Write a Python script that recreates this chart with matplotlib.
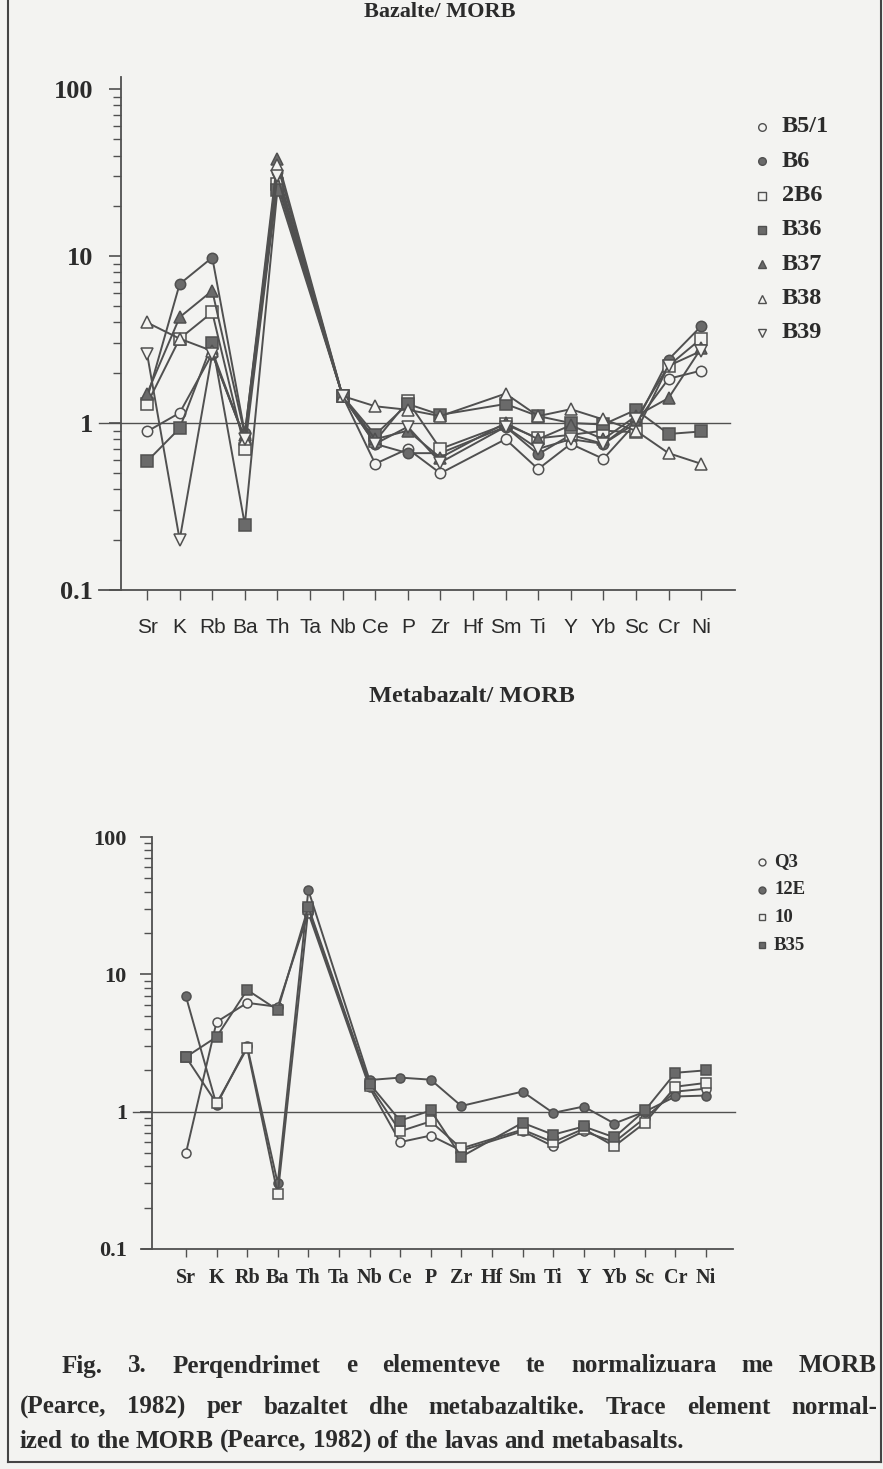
import numpy as np
import matplotlib
matplotlib.use("Agg")
import matplotlib.pyplot as plt
from matplotlib.lines import Line2D
from matplotlib.ticker import FixedLocator, FixedFormatter, LogLocator, NullFormatter

nan = np.nan
elements = ['Sr', 'K', 'Rb', 'Ba', 'Th', 'Ta', 'Nb', 'Ce', 'P', 'Zr', 'Hf',
            'Sm', 'Ti', 'Y', 'Yb', 'Sc', 'Cr', 'Ni']
ytick_vals = [0.1, 1, 10, 100]
ytick_labels = ['0.1', '1', '10', '100']

# ---- Bazalte / MORB ----
top_names = ['B5/1', 'B6', '2B6', 'B36', 'B37', 'B38', 'B39']
B5_1 = [0.89, 1.15, 2.6, 0.80, 28, nan, 1.45, 0.57, 0.70, 0.50, nan, 0.80, 0.53, 0.75, 0.61, 1.00, 1.84, 2.06]
B6   = [1.40, 6.8, 9.8, 0.87, 32, nan, 1.45, 0.75, 0.66, 0.66, nan, 0.95, 0.65, 0.85, 0.75, 1.00, 2.40, 3.80]
B2B6 = [1.30, 3.2, 4.6, 0.70, 27, nan, 1.45, 0.78, 1.35, 0.70, nan, 0.98, 0.81, 0.85, 0.90, 0.88, 2.20, 3.20]
B36  = [0.59, 0.93, 3.0, 0.246, 25, nan, 1.45, 0.85, 1.30, 1.12, nan, 1.30, 1.10, 1.00, 0.98, 1.20, 0.86, 0.89]
B37  = [1.50, 4.3, 6.2, 0.85, 38, nan, 1.45, 0.80, 0.90, 0.62, nan, 1.00, 0.80, 0.97, 0.80, 1.10, 1.41, 2.80]
B38  = [4.00, 3.2, 2.7, 0.80, 35, nan, 1.45, 1.26, 1.20, 1.10, nan, 1.50, 1.10, 1.21, 1.05, 0.90, 0.66, 0.57]
B39  = [2.60, 0.20, 2.6, 0.80, 30, nan, 1.45, 0.75, 0.95, 0.58, nan, 0.95, 0.70, 0.80, 0.75, 1.05, 2.20, 2.70]
top_series = [B5_1, B6, B2B6, B36, B37, B38, B39]
top_markers = [('o', False), ('o', True), ('s', False), ('s', True),
               ('^', True), ('^', False), ('v', False)]

# ---- Metabazalt / MORB ----
bot_names = ['Q3', '12E', '10', 'B35']
Q3   = [0.50, 4.5, 6.2, 5.8, 28, nan, 1.50, 0.60, 0.67, 0.52, nan, 0.72, 0.56, 0.72, 0.60, 0.90, 1.40, 1.47]
E12  = [6.9, 1.12, 3.0, 0.30, 41, nan, 1.70, 1.77, 1.71, 1.10, nan, 1.40, 0.98, 1.09, 0.82, 1.00, 1.29, 1.31]
S10  = [2.5, 1.15, 2.9, 0.25, 30, nan, 1.55, 0.72, 0.85, 0.54, nan, 0.74, 0.60, 0.75, 0.56, 0.83, 1.52, 1.62]
B35  = [2.5, 3.5, 7.7, 5.5, 31, nan, 1.60, 0.86, 1.02, 0.47, nan, 0.83, 0.68, 0.78, 0.65, 1.02, 1.92, 2.00]
bot_series = [Q3, E12, S10, B35]
bot_markers = [('o', False), ('o', True), ('s', False), ('s', True)]

caption_lines = [
    "Fig. 3. Perqendrimet e elementeve te normalizuara me MORB",
    "(Pearce, 1982) per bazaltet dhe metabazaltike. Trace element normal-",
    "ized to the MORB (Pearce, 1982) of the lavas and metabasalts.",
]

BG = '#f3f3f1'
LC = '#505050'
FC = '#6a6a6a'
TC = '#2b2b2b'
SERIF = ['Liberation Serif', 'DejaVu Serif']
SANS = ['Liberation Sans', 'DejaVu Sans']

W, H = 883, 1469
fig = plt.figure(figsize=(W / 100, H / 100), dpi=100, facecolor=BG)


def fx(x):
    return x / W


def fy(y):
    return 1 - y / H


def setup_axes(ax, xl, yl, xfont, xfs, yfs, xtl, xpad, ypad, ymaj, ymin, xext, ref):
    ax.set_facecolor('none')
    ax.set_yscale('log')
    ax.set_xlim(*xl)
    ax.set_ylim(*yl)
    for s in ['top', 'right']:
        ax.spines[s].set_visible(False)
    for s in ['left', 'bottom']:
        ax.spines[s].set_color(LC)
        ax.spines[s].set_linewidth(1.3)
    ax.yaxis.set_major_locator(FixedLocator(ytick_vals))
    ax.yaxis.set_major_formatter(FixedFormatter(ytick_labels))
    ax.yaxis.set_minor_locator(LogLocator(base=10, subs=np.arange(2, 10)))
    ax.yaxis.set_minor_formatter(NullFormatter())
    ax.set_xticks(range(len(elements)))
    ax.set_xticklabels(elements)
    ax.tick_params(axis='y', which='major', direction='out', length=ymaj, width=1.2,
                   color=LC, labelsize=yfs, labelcolor=TC, pad=ypad)
    ax.tick_params(axis='y', which='minor', direction='out', length=ymin, width=1.0, color=LC)
    ax.tick_params(axis='x', which='major', direction='out', length=xtl, width=1.0,
                   color=LC, labelsize=xfs, labelcolor=TC, pad=xpad)
    for t in ax.get_yticklabels():
        t.set_family(SERIF)
        t.set_fontweight('bold')
    for t in ax.get_xticklabels():
        t.set_family(xfont)
        if xfont is SERIF:
            t.set_fontweight('bold')
    # axis line extending left of y-axis
    ax.plot([xext, 0], [0, 0], transform=ax.transAxes, color=LC, lw=1.3, clip_on=False)
    # reference line at 1
    ax.plot(ref, [1, 1], transform=ax.get_yaxis_transform(), color=LC, lw=1.0, clip_on=False, zorder=1)


def plot_series(ax, series, markers, ms):
    x = np.arange(len(elements))
    for vals, (m, filled) in zip(series, markers):
        v = np.array(vals, dtype=float)
        ok = ~np.isnan(v)
        size = ms + (1 if m == 's' else 0) + (1 if m in '^v' else 0)
        ax.plot(x[ok], v[ok], color=LC, lw=1.4, marker=m, markersize=size,
                markerfacecolor=FC if filled else BG, markeredgecolor=LC,
                markeredgewidth=1.1, zorder=3)


# top axes
ax1 = fig.add_axes([fx(121), fy(590), (735 - 121) / W, (590 - 77) / H])
setup_axes(ax1, (-0.8, 18.04), (0.1, 10 ** (2 + 12 / 166)), SANS, 15, 19,
           7, 13, 11, 9, 5.5, -0.036, [-0.036, 0.992])
plot_series(ax1, top_series, top_markers, 7.5)

# bottom axes
ax2 = fig.add_axes([fx(152), fy(1249), (733 - 152) / W, (1249 - 837) / H])
setup_axes(ax2, (-1.11, 17.88), (0.1, 100), SERIF, 14.5, 16,
           6, 8, 9, 9, 5.5, -0.018, [-0.033, 1.003])
plot_series(ax2, bot_series, bot_markers, 6.5)

# titles
fig.text(fx(440), fy(12), 'Bazalte/ MORB', family=SERIF, fontweight='bold',
         fontsize=16, color=TC, ha='center', va='center')
fig.text(fx(472), fy(697), 'Metabazalt/ MORB', family=SERIF, fontweight='bold',
         fontsize=17.5, color=TC, ha='center', va='center')


# legends
def legend(names, markers, x_m, x_t, y0, dy, fs, ms):
    for i, (name, (m, filled)) in enumerate(zip(names, markers)):
        y = y0 + i * dy
        fig.add_artist(Line2D([fx(x_m)], [fy(y)], transform=fig.transFigure, marker=m,
                              markersize=ms, color=LC, markerfacecolor=FC if filled else BG,
                              markeredgecolor=LC, markeredgewidth=1.0, linestyle='none'))
        fig.text(fx(x_t), fy(y), name, family=SERIF, fontweight='bold', fontsize=fs,
                 color=TC, ha='left', va='center')


legend(top_names, top_markers, 762, 782, 127, 34.3, 17.5, 5.5)
legend(bot_names, bot_markers, 762, 774, 862, 27.7, 13.5, 5)

# caption (justified)
fig.canvas.draw()
renderer = fig.canvas.get_renderer()
CAP_FS = 18


def place_line(text, x0, x1, y, justify):
    words = text.split(' ')
    objs = [fig.text(fx(x0), fy(y), w, family=SERIF, fontweight='bold', fontsize=CAP_FS,
                     color=TC, ha='left', va='center') for w in words]
    widths = [o.get_window_extent(renderer).width for o in objs]
    if justify and len(words) > 1:
        gap = (x1 - x0 - sum(widths)) / (len(words) - 1)
    else:
        sp = fig.text(0, 0, 'a a', family=SERIF, fontweight='bold', fontsize=CAP_FS)
        sp2 = fig.text(0, 0, 'aa', family=SERIF, fontweight='bold', fontsize=CAP_FS)
        gap = sp.get_window_extent(renderer).width - sp2.get_window_extent(renderer).width
        sp.remove()
        sp2.remove()
    x = x0
    for o, w in zip(objs, widths):
        o.set_x(fx(x))
        x += w + gap


place_line(caption_lines[0], 62, 877, 1366, True)
place_line(caption_lines[1], 20, 877, 1407, True)
place_line(caption_lines[2], 20, 877, 1441, False)

# frame
fig.add_artist(Line2D([fx(8), fx(8)], [fy(0), fy(1462)], transform=fig.transFigure, color='#444444', lw=1.5))
fig.add_artist(Line2D([fx(8), fx(881)], [fy(1462), fy(1462)], transform=fig.transFigure, color='#444444', lw=1.5))
fig.add_artist(Line2D([fx(881), fx(881)], [fy(0), fy(1462)], transform=fig.transFigure, color='#444444', lw=1.5))

fig.savefig('out.png', dpi=100, facecolor=BG)
